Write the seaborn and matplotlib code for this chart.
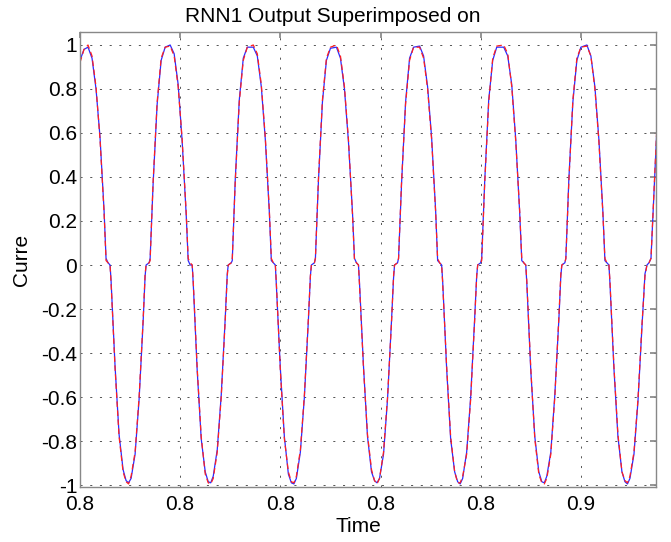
import matplotlib
matplotlib.use("Agg")
import matplotlib.pyplot as plt
import seaborn as sns
import pandas as pd

# ---------------- data ----------------
time_s = [
    0.8000, 0.8004,
    0.8008, 0.8012, 0.8016, 0.8020, 0.8024, 0.8026, 0.8028, 0.8030, 0.8031, 0.8035, 0.8039, 0.8043, 0.8046,
    0.80485, 0.8051, 0.8055, 0.8059, 0.8063, 0.8065, 0.8066, 0.8069, 0.8070, 0.8073, 0.8077, 0.8081, 0.8085,
    0.8090, 0.8094, 0.8098, 0.8102, 0.8106, 0.8108, 0.8110, 0.8112, 0.8113, 0.8117, 0.8121, 0.8125, 0.8128,
    0.81305, 0.8133, 0.8137, 0.8141, 0.8145, 0.8147, 0.8148, 0.8151, 0.8152, 0.8155, 0.8159, 0.8163, 0.8167,
    0.8173, 0.8177, 0.8181, 0.8185, 0.8189, 0.8191, 0.8193, 0.8195, 0.8196, 0.8200, 0.8204, 0.8208, 0.8211,
    0.82135, 0.8216, 0.8220, 0.8224, 0.8228, 0.8230, 0.8231, 0.8234, 0.8235, 0.8238, 0.8242, 0.8246, 0.8250,
    0.8256, 0.8260, 0.8264, 0.8268, 0.8272, 0.8274, 0.8276, 0.8278, 0.8279, 0.8283, 0.8287, 0.8291, 0.8294,
    0.82965, 0.8299, 0.8303, 0.8307, 0.8311, 0.8313, 0.8314, 0.8317, 0.8318, 0.8321, 0.8325, 0.8329, 0.8333,
    0.8339, 0.8343, 0.8347, 0.8351, 0.8355, 0.8357, 0.8359, 0.8361, 0.8362, 0.8366, 0.8370, 0.8374, 0.8377,
    0.83795, 0.8382, 0.8386, 0.8390, 0.8394, 0.8396, 0.8397, 0.8400, 0.8401, 0.8404, 0.8408, 0.8412, 0.8416,
    0.8423, 0.8427, 0.8431, 0.8435, 0.8439, 0.8441, 0.8443, 0.8445, 0.8446, 0.8450, 0.8454, 0.8458, 0.8461,
    0.84635, 0.8466, 0.8470, 0.8474, 0.8478, 0.8480, 0.8481, 0.8484, 0.8485, 0.8488, 0.8492, 0.8496, 0.8500,
    0.8506, 0.8510, 0.8514, 0.8518, 0.8522, 0.8524, 0.8526, 0.8528, 0.8529, 0.8533, 0.8537, 0.8541, 0.8544,
    0.85465, 0.8549, 0.8553, 0.8557, 0.8561, 0.8564, 0.8566, 0.8568, 0.8570, 0.8573, 0.8576,
]

current_blue = [
    0.93, 0.98,
    0.99, 0.94, 0.80, 0.58, 0.25, 0.03, 0.01, 0.00, -0.07, -0.46, -0.77, -0.93, -0.98,
    -0.99, -0.97, -0.86, -0.61, -0.26, -0.05, 0.00, 0.01, 0.03, 0.37, 0.73, 0.93, 0.99,
    1.00, 0.96, 0.82, 0.56, 0.23, 0.02, 0.00, 0.00, -0.08, -0.48, -0.79, -0.94, -0.985,
    -0.99, -0.96, -0.84, -0.59, -0.24, -0.04, 0.00, 0.01, 0.02, 0.39, 0.75, 0.94, 0.99,
    0.99, 0.95, 0.81, 0.57, 0.24, 0.02, 0.01, 0.00, -0.09, -0.47, -0.78, -0.95, -0.99,
    -0.995, -0.97, -0.85, -0.60, -0.25, -0.05, 0.00, 0.01, 0.03, 0.38, 0.74, 0.93, 0.985,
    0.99, 0.94, 0.80, 0.56, 0.24, 0.03, 0.01, 0.00, -0.08, -0.46, -0.78, -0.94, -0.98,
    -0.99, -0.97, -0.86, -0.61, -0.25, -0.06, 0.00, 0.01, 0.03, 0.37, 0.74, 0.94, 0.99,
    0.995, 0.95, 0.81, 0.58, 0.25, 0.02, 0.01, 0.00, -0.07, -0.47, -0.79, -0.94, -0.985,
    -0.995, -0.97, -0.85, -0.60, -0.24, -0.05, 0.00, 0.01, 0.03, 0.38, 0.75, 0.93, 0.99,
    0.99, 0.95, 0.82, 0.57, 0.23, 0.02, 0.01, 0.00, -0.08, -0.48, -0.78, -0.94, -0.985,
    -0.99, -0.96, -0.85, -0.59, -0.25, -0.05, 0.00, 0.01, 0.03, 0.39, 0.74, 0.93, 0.99,
    1.00, 0.95, 0.81, 0.57, 0.24, 0.02, 0.01, 0.00, -0.08, -0.47, -0.78, -0.94, -0.985,
    -0.995, -0.97, -0.86, -0.62, -0.28, -0.04, 0.00, 0.01, 0.03, 0.33, 0.63,
]

current_red = [
    0.92, 0.98,
    1.00, 0.95, 0.81, 0.57, 0.24, 0.02, 0.01, 0.00, -0.08, -0.47, -0.78, -0.94, -0.985,
    -0.995, -0.96, -0.85, -0.60, -0.25, -0.04, 0.00, 0.01, 0.02, 0.38, 0.74, 0.94, 0.99,
    0.995, 0.95, 0.81, 0.57, 0.24, 0.03, 0.01, 0.00, -0.07, -0.47, -0.78, -0.95, -0.99,
    -0.995, -0.97, -0.85, -0.60, -0.25, -0.05, 0.00, 0.01, 0.03, 0.38, 0.74, 0.93, 0.99,
    1.00, 0.96, 0.82, 0.58, 0.25, 0.03, 0.01, 0.00, -0.08, -0.48, -0.79, -0.94, -0.985,
    -0.99, -0.96, -0.84, -0.59, -0.24, -0.05, 0.00, 0.01, 0.03, 0.39, 0.75, 0.94, 0.99,
    1.00, 0.95, 0.81, 0.57, 0.23, 0.02, 0.01, 0.00, -0.09, -0.47, -0.77, -0.93, -0.98,
    -0.995, -0.97, -0.85, -0.60, -0.26, -0.05, 0.00, 0.01, 0.03, 0.38, 0.73, 0.93, 0.99,
    0.99, 0.94, 0.80, 0.57, 0.24, 0.03, 0.01, 0.00, -0.08, -0.46, -0.78, -0.94, -0.99,
    -0.99, -0.96, -0.86, -0.61, -0.25, -0.05, 0.00, 0.01, 0.02, 0.37, 0.74, 0.94, 0.995,
    1.00, 0.96, 0.81, 0.56, 0.24, 0.03, 0.01, 0.00, -0.07, -0.47, -0.79, -0.95, -0.99,
    -0.995, -0.97, -0.86, -0.60, -0.24, -0.04, 0.00, 0.01, 0.03, 0.38, 0.75, 0.94, 0.99,
    0.995, 0.95, 0.80, 0.56, 0.23, 0.03, 0.01, 0.00, -0.07, -0.46, -0.77, -0.94, -0.98,
    -0.99, -0.96, -0.85, -0.61, -0.27, -0.05, 0.00, 0.01, 0.03, 0.34, 0.64,
]

x_ticks = [0.80, 0.81, 0.82, 0.83, 0.84, 0.85]
x_tick_labels = ["0.8", "0.8", "0.8", "0.8", "0.8", "0.9"]
y_ticks = [-1, -0.8, -0.6, -0.4, -0.2, 0, 0.2, 0.4, 0.6, 0.8, 1]
y_tick_labels = ["-1", "-0.8", "-0.6", "-0.4", "-0.2", "0", "0.2", "0.4", "0.6", "0.8", "1"]

title_text = "RNN1 Output Superimposed on"
x_label = "Time"
y_label = "Curre"

# ---------------- plotting ----------------
sns.set_theme(style="white")
plt.rcParams['font.family'] = ['Liberation Sans', 'DejaVu Sans']
plt.rcParams['lines.scale_dashes'] = False

df_blue = pd.DataFrame({"Time": time_s, "Current": current_blue})
df_red = pd.DataFrame({"Time": time_s, "Current": current_red})

W, H = 671, 542
fig = plt.figure(figsize=(W / 100, H / 100), dpi=100)
fig.patch.set_facecolor("white")
ax = fig.add_axes([80 / W, 55 / H, 576 / W, 455 / H])

sns.lineplot(data=df_blue, x="Time", y="Current", ax=ax, color="#2b2bff",
             linewidth=0.9, sort=False, estimator=None)
sns.lineplot(data=df_red, x="Time", y="Current", ax=ax, color="#ff2020",
             linewidth=0.9, linestyle=(0, (4, 2.5)), sort=False, estimator=None)

ax.set_xlim(0.80, 0.8575)
ax.set_ylim(-1.009, 1.059)
ax.set_xticks(x_ticks)
ax.set_xticklabels(x_tick_labels)
ax.set_yticks(y_ticks)
ax.set_yticklabels(y_tick_labels)

ax.grid(True, color="#555555", linestyle=(0, (1.5, 5.5)), linewidth=0.7)
for sp in ax.spines.values():
    sp.set_color("#888888")
    sp.set_linewidth(1.0)
ax.tick_params(axis="both", direction="in", top=True, right=True, length=4,
               color="#888888", labelsize=15, labelcolor="black")
ax.tick_params(axis="x", pad=6)
ax.tick_params(axis="y", pad=2)

ax.set_xlabel(x_label, fontsize=15, color="black")
ax.set_ylabel(y_label, fontsize=15, color="black")
ax.xaxis.set_label_coords((358 - 80) / 576, (487 - 517) / 455)
ax.yaxis.set_label_coords((31 - 80) / 576, 0.5)

fig.text(333 / W, 1 - 22 / H, title_text, ha="center", va="baseline", fontsize=15, color="black")

fig.savefig("out.png", dpi=100, facecolor="white")
